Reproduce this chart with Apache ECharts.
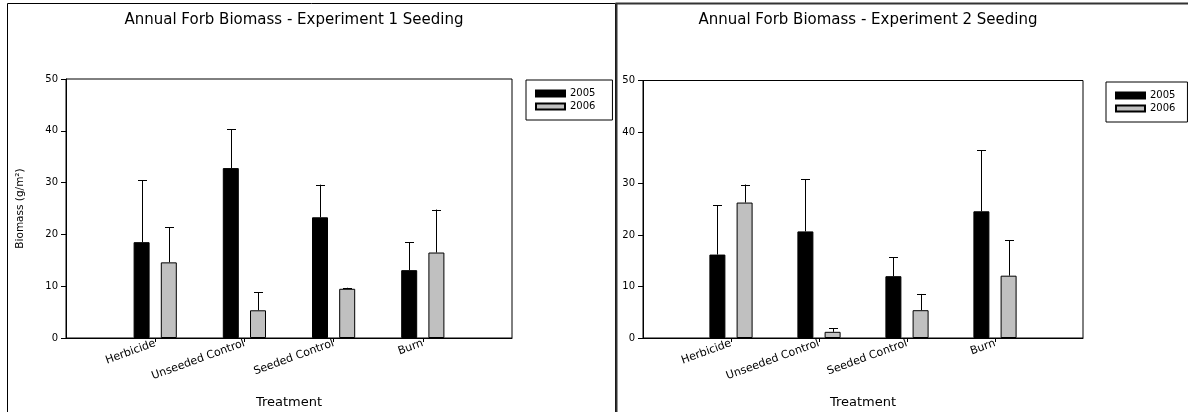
<!DOCTYPE html>
<html>
<head>
<meta charset="utf-8">
<script src="https://cdn.jsdelivr.net/npm/echarts@6/dist/echarts.min.js"></script>
<style>html,body{margin:0;padding:0;background:#fff}#c{width:1188px;height:412px}</style>
</head>
<body>
<div id="c"></div>
<script>
const categories = ['', 'Herbicide', 'Unseeded Control', 'Seeded Control', 'Burn', ''];
const seriesNames = ['2005', '2006'];
const yTicks = [0, 10, 20, 30, 40, 50];
const titles = ['Annual Forb Biomass - Experiment 1 Seeding', 'Annual Forb Biomass - Experiment 2 Seeding'];

// Experiment 1: means and upper error-bar ends
const exp1_2005 = [18.5, 32.8, 23.3, 13.1];
const exp1_2005_err = [30.5, 40.3, 29.6, 18.5];
const exp1_2006 = [14.6, 5.35, 9.5, 16.5];
const exp1_2006_err = [21.4, 8.8, 9.7, 24.8];

// Experiment 2
const exp2_2005 = [16.2, 20.7, 12.0, 24.6];
const exp2_2005_err = [25.8, 30.8, 15.7, 36.5];
const exp2_2006 = [26.3, 1.2, 5.4, 12.1];
const exp2_2006_err = [29.8, 1.9, 8.55, 19.0];

const F = 'DejaVu Sans, sans-serif';
const BW = 16, GAP = '70%', OFF = 13.6;

function pts(vals) { return vals.map((v, i) => [i + 1, v]); }
function errPts(vals, tops) { return vals.map((v, i) => [i + 1, v, tops[i]]); }
function errSeries(gi, vals, tops, dir) {
  return {
    type: 'custom', xAxisIndex: gi, yAxisIndex: gi, z: 1, silent: true,
    data: errPts(vals, tops),
    renderItem: function (params, api) {
      const b = api.coord([api.value(0), api.value(1)]);
      const t = api.coord([api.value(0), api.value(2)]);
      const x = Math.round(b[0] + dir * OFF) + 0.5;
      return { type: 'group', children: [
        { type: 'line', shape: { x1: x, y1: b[1], x2: x, y2: t[1] }, style: { stroke: '#000', lineWidth: 1 } },
        { type: 'line', shape: { x1: x - 4.5, y1: Math.round(t[1]) + 0.5, x2: x + 4.5, y2: Math.round(t[1]) + 0.5 }, style: { stroke: '#000', lineWidth: 1 } }
      ]};
    }
  };
}
const showIdx = (i) => i >= 1 && i <= 4;
function xAx(gi) {
  return {
    type: 'category', gridIndex: gi, data: categories, boundaryGap: false,
    axisLine: { lineStyle: { color: '#000', width: 1 } },
    axisTick: { interval: showIdx, length: 4, lineStyle: { color: '#000' } },
    axisLabel: { interval: showIdx, rotate: 20, fontSize: 11, color: '#000', fontFamily: F, margin: 5 },
    splitLine: { show: false },
    name: 'Treatment', nameLocation: 'middle', nameGap: 58,
    nameTextStyle: { fontSize: 13, color: '#000', fontFamily: F }
  };
}
function yAx(gi, name) {
  return {
    type: 'value', gridIndex: gi, min: yTicks[0], max: yTicks[yTicks.length - 1], interval: 10,
    axisLine: { show: true, lineStyle: { color: '#000' } },
    axisTick: { show: true, length: 5, lineStyle: { color: '#000' } },
    axisLabel: { fontSize: 10, color: '#000', fontFamily: F, margin: 8 },
    splitLine: { show: false },
    name: name, nameLocation: 'middle', nameGap: 40,
    nameTextStyle: { fontSize: 10.5, color: '#000', fontFamily: F }
  };
}
function barS(gi, name, vals, color) {
  return {
    type: 'bar', name: name, xAxisIndex: gi, yAxisIndex: gi, data: pts(vals),
    barWidth: BW, barGap: GAP, z: 2,
    itemStyle: { color: color, borderColor: '#000', borderWidth: 1 }
  };
}
function legend(left, top, padR) {
  return {
    data: seriesNames, orient: 'vertical', left: left, top: top,
    icon: 'rect', itemWidth: 29, itemHeight: 6, itemGap: 0,
    padding: [7, padR, 7, 9], borderColor: '#000', borderWidth: 1,
    textStyle: { fontSize: 10, color: '#000', fontFamily: F, lineHeight: 13 },
    selectedMode: false
  };
}

const chart = echarts.init(document.getElementById('c'), null, { renderer: 'canvas' });
chart.setOption({
  animation: false,
  backgroundColor: '#fff',
  title: [
    { text: titles[0], left: 289, top: 8, textAlign: 'center', textStyle: { fontSize: 15, fontWeight: 'normal', color: '#000', fontFamily: F } },
    { text: titles[1], left: 863, top: 8, textAlign: 'center', textStyle: { fontSize: 15, fontWeight: 'normal', color: '#000', fontFamily: F } }
  ],
  legend: [legend(526, 80, 17), legend(1106, 82, 12)],
  grid: [
    { left: 66, right: 676, top: 79, bottom: 74, outerBoundsMode: 'none', containLabel: false, show: true, borderColor: '#000', borderWidth: 1, backgroundColor: 'transparent' },
    { left: 643, right: 105, top: 80.5, bottom: 74, outerBoundsMode: 'none', containLabel: false, show: true, borderColor: '#000', borderWidth: 1, backgroundColor: 'transparent' }
  ],
  xAxis: [xAx(0), xAx(1)],
  yAxis: [yAx(0, 'Biomass (g/m²)'), yAx(1, '')],
  series: [
    barS(0, seriesNames[0], exp1_2005, '#000'),
    barS(0, seriesNames[1], exp1_2006, '#c0c0c0'),
    barS(1, seriesNames[0], exp2_2005, '#000'),
    barS(1, seriesNames[1], exp2_2006, '#c0c0c0'),
    errSeries(0, exp1_2005, exp1_2005_err, -1),
    errSeries(0, exp1_2006, exp1_2006_err, 1),
    errSeries(1, exp2_2005, exp2_2005_err, -1),
    errSeries(1, exp2_2006, exp2_2006_err, 1)
  ],
  graphic: [
    { type: 'rect', shape: { x: 7.5, y: 3.5, width: 608, height: 420 }, style: { fill: 'none', stroke: '#000', lineWidth: 1 }, silent: true, z: -1 },
    { type: 'rect', shape: { x: 616.5, y: 3.5, width: 600, height: 420 }, style: { fill: 'none', stroke: '#333', lineWidth: 2 }, silent: true, z: -1 }
  ]
});
</script>
</body>
</html>
